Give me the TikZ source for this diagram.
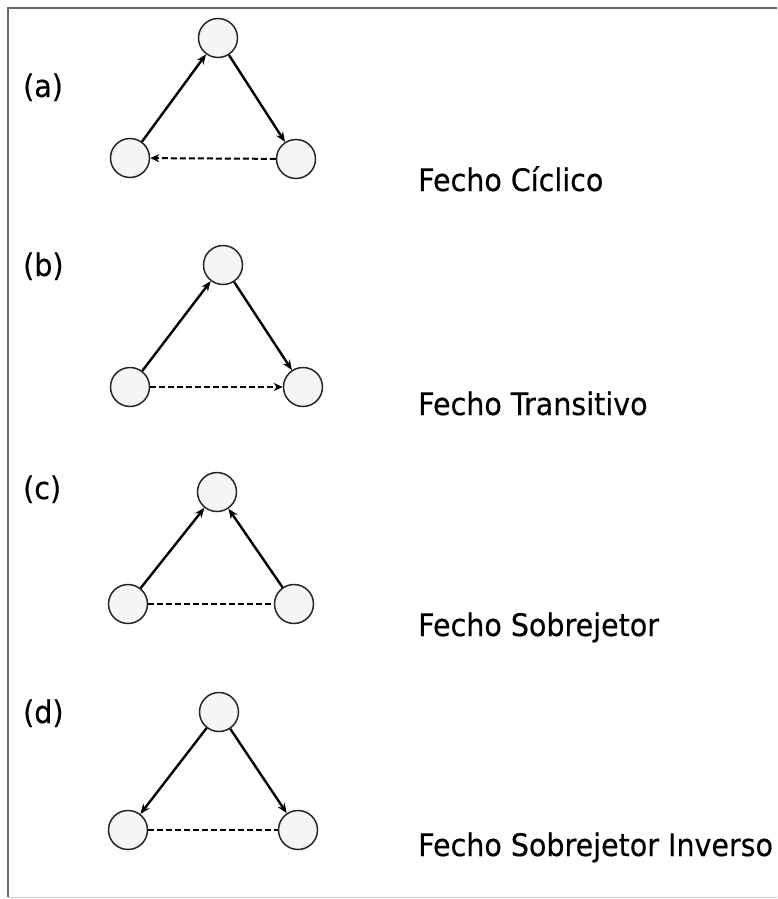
\documentclass[tikz,border=0pt]{standalone}
\usepackage{fontspec}
\setmainfont{DejaVu Sans}[FakeStretch=0.92,FakeBold=0.4]
\usetikzlibrary{arrows.meta}
\begin{document}
\begin{tikzpicture}[x=1pt,y=-1pt,
  vtx/.style={circle,draw=black!85,line width=1.5pt,fill=black!4,minimum size=39pt,inner sep=0pt},
  solidarrow/.style={line width=2.4pt,-{Stealth[length=10pt,width=8pt]}},
  dashedarrow/.style={line width=2pt,dash pattern=on 6pt off 3pt,-{Stealth[length=9pt,width=8pt]}},
  dashedline/.style={line width=2pt,dash pattern=on 6pt off 3pt},
  lbl/.style={font=\fontsize{31}{36}\selectfont,anchor=base west,inner sep=0pt},
  captext/.style={font=\fontsize{31}{36}\selectfont,anchor=base west,inner sep=0pt}]
\useasboundingbox (0,0) rectangle (777,899);
\fill[white] (0,0) rectangle (777,899);
\draw[black!60,line width=1.5pt] (777,8) -- (8,8) -- (8,897);
\draw[black!20,line width=1pt] (8,897) -- (777,897);

% (a)
\node[lbl] (la) at (23,97) {(a)};
\node[vtx] (at) at (218,38) {};
\node[vtx] (al) at (130,158) {};
\node[vtx] (ar) at (296,159) {};
\draw[solidarrow] (al) -- (at);
\draw[solidarrow] (at) -- (ar);
\draw[dashedarrow] (ar) -- (al);
\node[captext] (ca) at (418,191) {Fecho Cíclico};

% (b)
\node[lbl] (lb) at (23,276) {(b)};
\node[vtx] (bt) at (223,265) {};
\node[vtx] (bl) at (130,387) {};
\node[vtx] (br) at (303,387) {};
\draw[solidarrow] (bl) -- (bt);
\draw[solidarrow] (bt) -- (br);
\draw[dashedarrow] (bl) -- (br);
\node[captext] (cb) at (418,415) {Fecho Transitivo};

% (c)
\node[lbl] (lc) at (23,499) {(c)};
\node[vtx] (ct) at (217,492) {};
\node[vtx] (cl) at (128,604) {};
\node[vtx] (cr) at (294,604) {};
\draw[solidarrow] (cl) -- (ct);
\draw[solidarrow] (cr) -- (ct);
\draw[dashedline] (cl) -- (cr);
\node[captext] (cc) at (418,636) {Fecho Sobrejetor};

% (d)
\node[lbl] (ld) at (23,723) {(d)};
\node[vtx] (dt) at (219,712) {};
\node[vtx] (dl) at (128,830) {};
\node[vtx] (dr) at (298,830) {};
\draw[solidarrow] (dt) -- (dl);
\draw[solidarrow] (dt) -- (dr);
\draw[dashedline] (dl) -- (dr);
\node[captext] (cd) at (418,856) {Fecho Sobrejetor Inverso};
\end{tikzpicture}
\end{document}
